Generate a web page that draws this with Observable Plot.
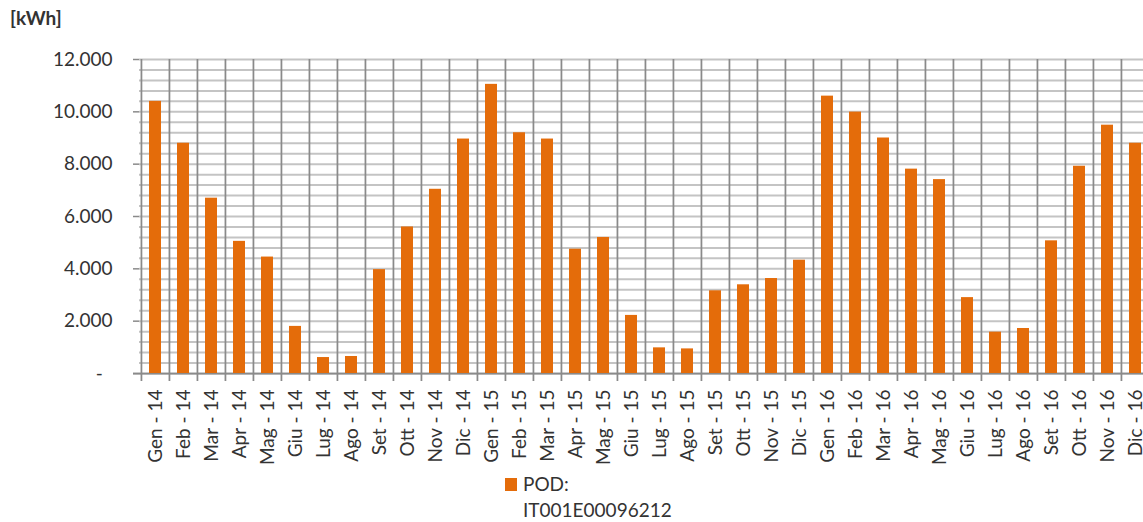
<!DOCTYPE html>
<html>
<head>
<meta charset="utf-8">
<script src="https://cdn.jsdelivr.net/npm/d3@7"></script>
<script src="https://cdn.jsdelivr.net/npm/@observablehq/plot@0.6"></script>
<style>
  html, body { margin: 0; padding: 0; background: #fff; overflow: hidden; }
  #wrap { position: relative; width: 1143px; height: 522px; overflow: hidden; font-family: Lato, "Open Sans", sans-serif; color: #333; }
  #unit { position: absolute; left: 10px; top: 6px; font-weight: bold; font-size: 19px; }
  #chart { position: absolute; left: 0; top: 0; width: 1160px; }
  #chart svg { max-width: none !important; }
  .leg { position: absolute; font-size: 19px; line-height: 19px; white-space: nowrap; }
  .sw { position: absolute; left: 505px; top: 478px; width: 12px; height: 13px; background: #e46c0a; }
</style>
</head>
<body>
<div id="wrap">
  <div id="chart"></div>
  <div id="unit">[kWh]</div>
  <div class="sw"></div>
  <div class="leg" style="left:523px; top:474px;">POD:</div>
  <div class="leg" style="left:523px; top:500px;">IT001E00096212</div>
</div>
<script>
const categories = [
  "Gen - 14","Feb - 14","Mar - 14","Apr - 14","Mag - 14","Giu - 14","Lug - 14","Ago - 14","Set - 14","Ott - 14","Nov - 14","Dic - 14",
  "Gen - 15","Feb - 15","Mar - 15","Apr - 15","Mag - 15","Giu - 15","Lug - 15","Ago - 15","Set - 15","Ott - 15","Nov - 15","Dic - 15",
  "Gen - 16","Feb - 16","Mar - 16","Apr - 16","Mag - 16","Giu - 16","Lug - 16","Ago - 16","Set - 16","Ott - 16","Nov - 16","Dic - 16"
];
const consumption = [
  10400, 8800, 6700, 5050, 4450, 1800, 610, 650, 3970, 5600, 7040, 8960,
  11050, 9200, 8960, 4750, 5200, 2220, 980, 940, 3160, 3390, 3630, 4330,
  10600, 9990, 9000, 7810, 7410, 2900, 1580, 1720, 5070, 7920, 9490, 8800
];
const yTicks = [0, 2000, 4000, 6000, 8000, 10000, 12000];
const yMinorTicks = d3.range(0, 12001, 400);
const seriesName = "POD: IT001E00096212";

const data = categories.map((c, i) => ({month: c, value: consumption[i]}));

const W = 1160, ML = 139, MR = 9;
const step = (W - ML - MR) / categories.length;
const fmt = d => d === 0 ? "-\u00a0\u00a0" : d3.format(",")(d).replace(/,/g, ".");

const chart = Plot.plot({
  width: W,
  height: 470,
  marginLeft: ML,
  marginRight: MR,
  marginTop: 59,
  marginBottom: 97,
  style: {fontFamily: "Lato, 'Open Sans', sans-serif", fontSize: "19px", color: "#333", background: "transparent", maxWidth: "none"},
  x: {domain: categories, paddingInner: 0.585, paddingOuter: 0.2925, label: null},
  y: {domain: [0, 12000], label: null},
  marks: [
    Plot.gridY(yMinorTicks, {stroke: "#c4c4c4", strokeOpacity: 1, strokeWidth: 2}),
    Plot.ruleX(categories, {x: d => d, dx: -step / 2, stroke: "#8a8a8a", strokeWidth: 1.75, insetBottom: -8}),
    Plot.ruleX(categories.slice(-1), {x: d => d, dx: step / 2, stroke: "#8a8a8a", strokeWidth: 1.75, insetBottom: -8}),
    Plot.ruleY([0], {stroke: "#8a8a8a", strokeWidth: 1.75, insetLeft: -6}),
    Plot.barY(data, {x: "month", y: "value", fill: "#e46c0a", title: d => `${seriesName}\n${d.month}: ${fmt(d.value)}`}),
    Plot.axisY({ticks: yTicks, tickFormat: fmt, tickSize: 6, tickPadding: 21, stroke: "#8a8a8a", strokeWidth: 1.5, label: null}),
    Plot.axisX({tickSize: 0, tickRotate: -90, tickPadding: 16, label: null})
  ]
});
document.getElementById("chart").appendChild(chart);
</script>
</body>
</html>
